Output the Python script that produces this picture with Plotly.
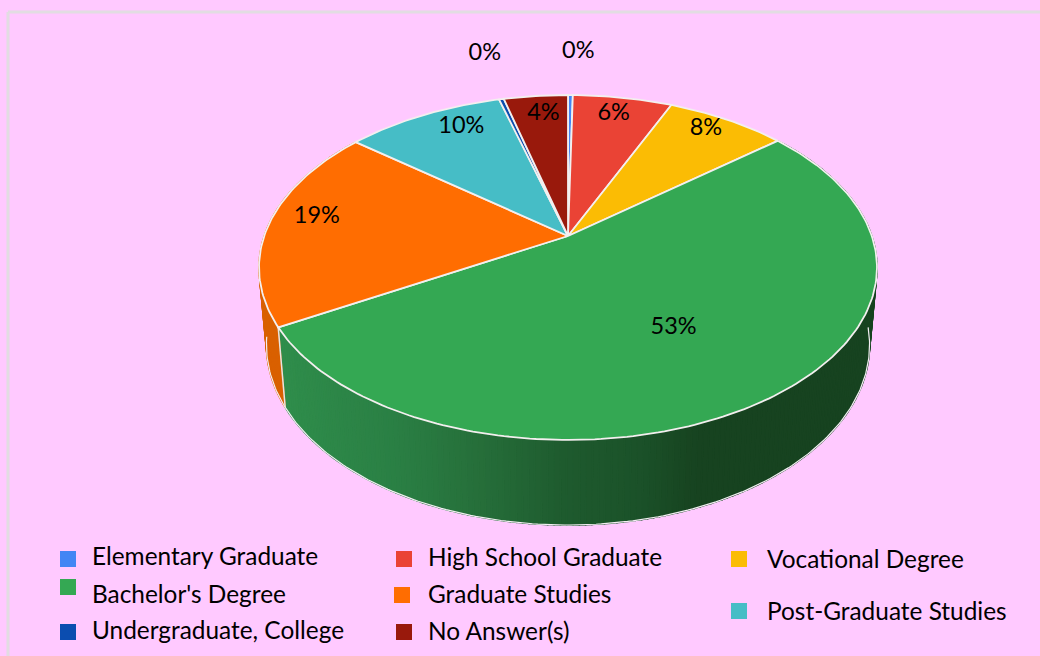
import numpy as np
import plotly.graph_objects as go

categories = ["Elementary Graduate", "High School Graduate", "Vocational Degree", "Bachelor's Degree",
              "Graduate Studies", "Post-Graduate Studies", "Undergraduate, College", "No Answer(s)"]
values = [0.3, 6.2, 7.5, 52.7, 19.1, 9.9, 0.3, 4.0]
percent_labels = ["0%", "6%", "8%", "53%", "19%", "10%", "0%", "4%"]
colors = ["#4285f4", "#ea4335", "#fbbc04", "#34a853", "#ff6d01", "#46bdc6", "#0b4db0", "#99190c"]
side_dark = {3: None, 4: "#d96000"}

# geometry of the tilted disc, in page pixels
CX, APEX_Y, A_TOP, B_TOP, K = 568.0, 236.0, 303.8, 166.7, 0.1826
BOTTOM_Y, A_BOT, B_BOT = 311.9, 296.5, 174.2
RIM_FROM, RIM_TO = 95, 262
label_radius = [1.40, 0.877, 0.90, 0.585, 0.855, 0.857, 1.423, 0.866]
label_turn = [1.2, -0.8, -2, 2, 4, 5.5, 1, 1]
LABEL_DY = 2
legend_marks = [(68, 559), (404, 559), (739, 559), (68, 587), (402, 595), (739, 611), (68, 632), (404, 632)]
legend_texts = [(92, 559), (428, 560), (767, 562), (92, 597), (428, 597), (767, 614), (92, 633), (428, 634)]


def project(theta_deg, r=1.0, bottom=False):
    t = np.radians(theta_deg)
    X, Y = r * np.sin(t), -r * np.cos(t)
    w = 1 - K * Y
    if bottom:
        return CX + A_BOT * X / w, BOTTOM_Y + B_BOT * Y / w
    return CX + A_TOP * X / w, APEX_Y + B_TOP * Y / w


def lerp_hex(stops, u):
    xs = [s[0] for s in stops]
    chans = [np.interp(u, xs, [int(s[1][i:i + 2], 16) for s in stops]) for i in (1, 3, 5)]
    return "#%02x%02x%02x" % tuple(int(round(c)) for c in chans)


green_stops = [(285, "#2f8d4b"), (400, "#2a7f44"), (480, "#266f3a"), (570, "#1e5a2e"),
               (640, "#1b5229"), (700, "#174320"), (870, "#174320")]

fig = go.Figure()
edges = np.concatenate([[0], np.cumsum(values)]) * 3.6

# extruded rim: narrow strips, shaded by their screen position
for i in (3, 4):
    a0, a1 = edges[i], edges[i + 1]
    steps = np.linspace(a0, a1, int((a1 - a0) / 1.0) + 2)
    for s0, s1 in zip(steps[:-1], steps[1:]):
        x0, y0 = project(s0)
        x1, y1 = project(s1)
        x2, y2 = project(s1, bottom=True)
        x3, y3 = project(s0, bottom=True)
        col = side_dark[i] or lerp_hex(green_stops, (x0 + x3) / 2)
        fig.add_trace(go.Scatter(x=[x0, x1, x2, x3, x0], y=[y0, y1, y2, y3, y0], mode="lines",
                                 fill="toself", fillcolor=col, line=dict(color=col, width=1.5),
                                 hoverinfo="skip", showlegend=False))

# pale outline along the lower rim and the seam between the two rim pieces
rim = np.linspace(RIM_FROM, RIM_TO, 200)
rx, ry = project(rim, bottom=True)
fig.add_trace(go.Scatter(x=rx, y=ry, mode="lines", line=dict(color="#f3eef3", width=1.2),
                         hoverinfo="skip", showlegend=False))
sx0, sy0 = project(edges[4])
sx1, sy1 = project(edges[4], bottom=True)
fig.add_trace(go.Scatter(x=[sx0, sx1], y=[sy0, sy1], mode="lines",
                         line=dict(color="#e8e4e0", width=1.5), hoverinfo="skip", showlegend=False))

# top face
for i, c in enumerate(colors):
    a = np.linspace(edges[i], edges[i + 1], max(int(values[i] * 3.6), 2) + 1)
    xs, ys = project(a)
    xs = np.concatenate([[CX], xs, [CX]])
    ys = np.concatenate([[APEX_Y], ys, [APEX_Y]])
    fig.add_trace(go.Scatter(x=xs, y=ys, mode="lines", fill="toself", fillcolor=c,
                             line=dict(color="#f3efef", width=1.8), hoverinfo="skip", showlegend=False))

# percent labels
mid = (edges[:-1] + edges[1:]) / 2
lab_x, lab_y = project(mid + np.array(label_turn), np.array(label_radius))
fig.add_trace(go.Scatter(x=lab_x, y=lab_y + LABEL_DY, mode="text", text=percent_labels,
                         textfont=dict(family="Lato", size=23.5, color="#000000"),
                         hoverinfo="skip", showlegend=False))

# hand-placed legend
fig.add_trace(go.Scatter(x=[m[0] for m in legend_marks], y=[m[1] for m in legend_marks], mode="markers",
                         marker=dict(symbol="square", size=16, color=colors, line=dict(width=0)),
                         hoverinfo="skip", showlegend=False))
fig.add_trace(go.Scatter(x=[t[0] for t in legend_texts], y=[t[1] for t in legend_texts], mode="text",
                         text=categories, textposition="middle right",
                         textfont=dict(family="Lato", size=24.4, color="#000000"),
                         hoverinfo="skip", showlegend=False))

fig.update_layout(
    width=1040, height=656, margin=dict(l=0, r=0, t=0, b=0),
    paper_bgcolor="#ffc9ff", plot_bgcolor="#ffc9ff",
    xaxis=dict(range=[0, 1040], visible=False, fixedrange=True),
    yaxis=dict(range=[656, 0], visible=False, fixedrange=True),
    shapes=[dict(type="line", xref="x", yref="y", x0=8, y0=12, x1=1040, y1=12, line=dict(color="#e2dce2", width=3)),
            dict(type="line", xref="x", yref="y", x0=8, y0=12, x1=8, y1=656, line=dict(color="#e2dce2", width=3))],
)
fig.write_html("out.html", config={"displayModeBar": False},
               post_script="document.body.style.margin='0';document.body.style.overflow='hidden';")
